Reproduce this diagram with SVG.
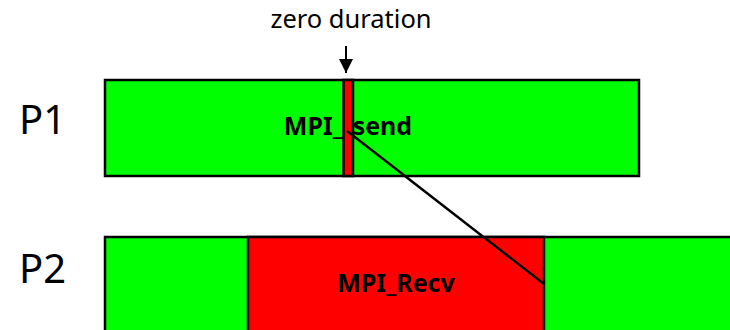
<svg xmlns="http://www.w3.org/2000/svg" width="730" height="330" viewBox="0 0 730 330">
<style>
.g{fill:#00ff00;stroke:#000;stroke-width:2.5}
.r{fill:#ff0000;stroke:#000;stroke-width:2.5}
.lbl{font-family:"Noto Sans","DejaVu Sans",sans-serif;font-size:40px;fill:#000}
.b{font-family:"Noto Sans","DejaVu Sans",sans-serif;font-size:25px;font-weight:bold;fill:#000;text-anchor:middle}
.t{font-family:"Noto Sans","DejaVu Sans",sans-serif;font-size:25.5px;fill:#000;text-anchor:middle}
</style>
<defs>
<marker id="ah" viewBox="0 0 10 10" refX="10" refY="5" markerWidth="14" markerHeight="14" markerUnits="userSpaceOnUse" orient="auto">
<path d="M0,0 L10,5 L0,10 z" fill="#000"/>
</marker>
</defs>
<rect width="730" height="330" fill="#fff"/>
<text class="lbl" x="19" y="134">P1</text>
<text class="lbl" x="19" y="283">P2</text>
<g id="p1">
<rect class="g" x="105" y="80" width="534" height="96"/>
<text class="b" x="348" y="135">MPI_Isend</text>
<rect class="r" x="343.5" y="80" width="9.5" height="96"/>
</g>
<g id="p2">
<rect class="g" x="105" y="237" width="640" height="110"/>
<rect class="r" x="248" y="237" width="296" height="110"/>
<text class="b" x="396" y="292">MPI_Recv</text>
</g>
<g id="annotation">
<text class="t" x="351" y="28">zero duration</text>
</g>
<g id="connectors">
<line x1="346" y1="46" x2="346" y2="73" stroke="#000" stroke-width="2" marker-end="url(#ah)"/>
<line x1="347" y1="131" x2="544" y2="284" stroke="#000" stroke-width="2.5"/>
</g>
</svg>
